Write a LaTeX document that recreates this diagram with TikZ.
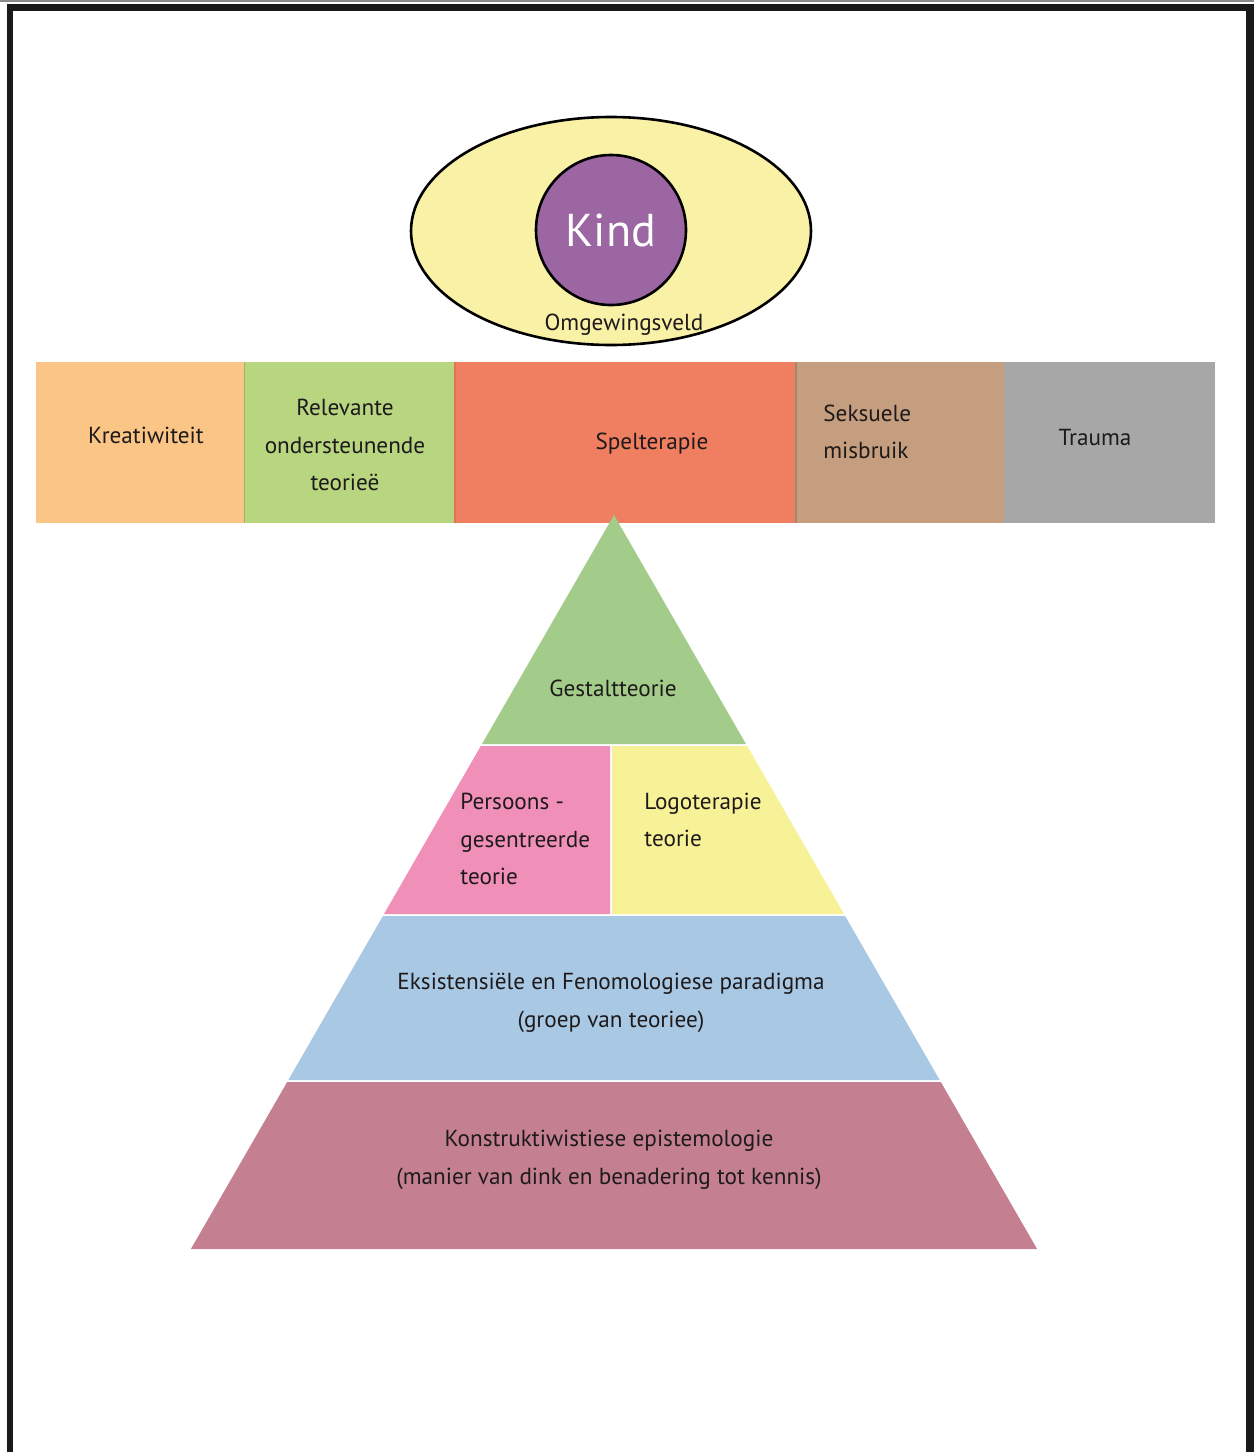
\documentclass[tikz,border=0pt]{standalone}
\usepackage{fontspec}
\setmainfont{PT Sans}
\usetikzlibrary{shapes.geometric}

\definecolor{ink}{HTML}{1E1A1B}
\definecolor{frame}{HTML}{1A1A1A}
\definecolor{envfill}{HTML}{F8F1A6}
\definecolor{kidfill}{HTML}{9B66A1}
\definecolor{kreafill}{HTML}{FBC585}
\definecolor{relfill}{HTML}{B8D580}
\definecolor{spelfill}{HTML}{F07E60}
\definecolor{seksfill}{HTML}{C49E7E}
\definecolor{traufill}{HTML}{A7A7A7}
\definecolor{gestfill}{HTML}{A3CC8A}
\definecolor{persfill}{HTML}{F090B8}
\definecolor{logofill}{HTML}{F7F297}
\definecolor{eksfill}{HTML}{A9C8E4}
\definecolor{konfill}{HTML}{C48090}

\begin{document}
\begin{tikzpicture}[x=0.5pt,y=-0.5pt,
  lbl/.style={text=ink, inner sep=0pt, align=center,
    font=\fontsize{11.6}{18.75}\selectfont},
  lblleft/.style={lbl, align=left, anchor=west}]
\useasboundingbox (0,0) rectangle (1254,1452);
\fill[white] (0,0) rectangle (1254,1452);

% page frame
\fill[black!45] (0,0) rectangle (1254,1.5);
\fill[frame] (7,4) rectangle (1254,11);
\fill[frame] (7,4) rectangle (13,1452);
\fill[frame] (1246,4) rectangle (1254,1452);

% child inside its environment
\node[ellipse, draw=black, line width=1.3pt, fill=envfill,
  minimum width=200pt, minimum height=114pt, inner sep=0pt] (env) at (611,231) {};
\node[circle, draw=black, line width=1.3pt, fill=kidfill,
  minimum size=75pt, inner sep=0pt] (kid) at (611,230) {};
\node[text=white, inner sep=0pt, font=\fontsize{23}{28}\selectfont] (kindlbl) at (611,230) {Kind};
\node[lbl] (envlbl) at (624,325) {Omgewingsveld};

% band of topics
\fill[kreafill] (36,362) rectangle (244,523);
\fill[relfill] (244,362) rectangle (454,523);
\fill[spelfill] (454,362) rectangle (795,523);
\fill[seksfill] (795,362) rectangle (1004,523);
\fill[traufill] (1004,362) rectangle (1215,523);
\draw[relfill!85!black, line width=0.6pt] (244.5,362) -- (244.5,523);
\draw[spelfill!92!black, line width=0.8pt] (455,362) -- (455,523);
\draw[seksfill!85!black, line width=0.8pt] (796,362) -- (796,523);

\node[lbl] (krea) at (146,435) {Kreatiwiteit};
\node[lbl] (rel) at (345,445) {Relevante\\ondersteunende\\teorieë};
\node[lbl] (spel) at (652,444) {Spelterapie};
\node[lblleft] (seks) at (823,432) {Seksuele\\misbruik};
\node[lbl] (trau) at (1095,438) {Trauma};

% pyramid of theories
\fill[gestfill] (614,515) -- (746,744) -- (482,744) -- cycle;
\fill[persfill] (480.8,746) -- (610,746) -- (610,914) -- (384,914) -- cycle;
\fill[logofill] (612,746) -- (747.2,746) -- (844,914) -- (612,914) -- cycle;
\fill[eksfill] (382.9,916) -- (845.1,916) -- (939.7,1080) -- (288.3,1080) -- cycle;
\fill[konfill] (287.2,1082) -- (940.8,1082) -- (1037.1,1249) -- (190.9,1249) -- cycle;
% apex showing through the band
\fill[gestfill, opacity=0.35] (614,515) -- (618.6,523) -- (609.4,523) -- cycle;

\node[lbl] (gest) at (613,688) {Gestaltteorie};
\node[lblleft] (pers) at (460,839) {Persoons -\\gesentreerde\\teorie};
\node[lblleft] (logo) at (644,820) {Logoterapie\\teorie};
\node[lbl] (eks) at (611,1003) {Eksistensiële en Fenomologiese paradigma\\(groep van teoriee)};
\node[lbl] (kon) at (609,1160) {Konstruktiwistiese epistemologie\\(manier van dink en benadering tot kennis)};
\end{tikzpicture}
\end{document}
